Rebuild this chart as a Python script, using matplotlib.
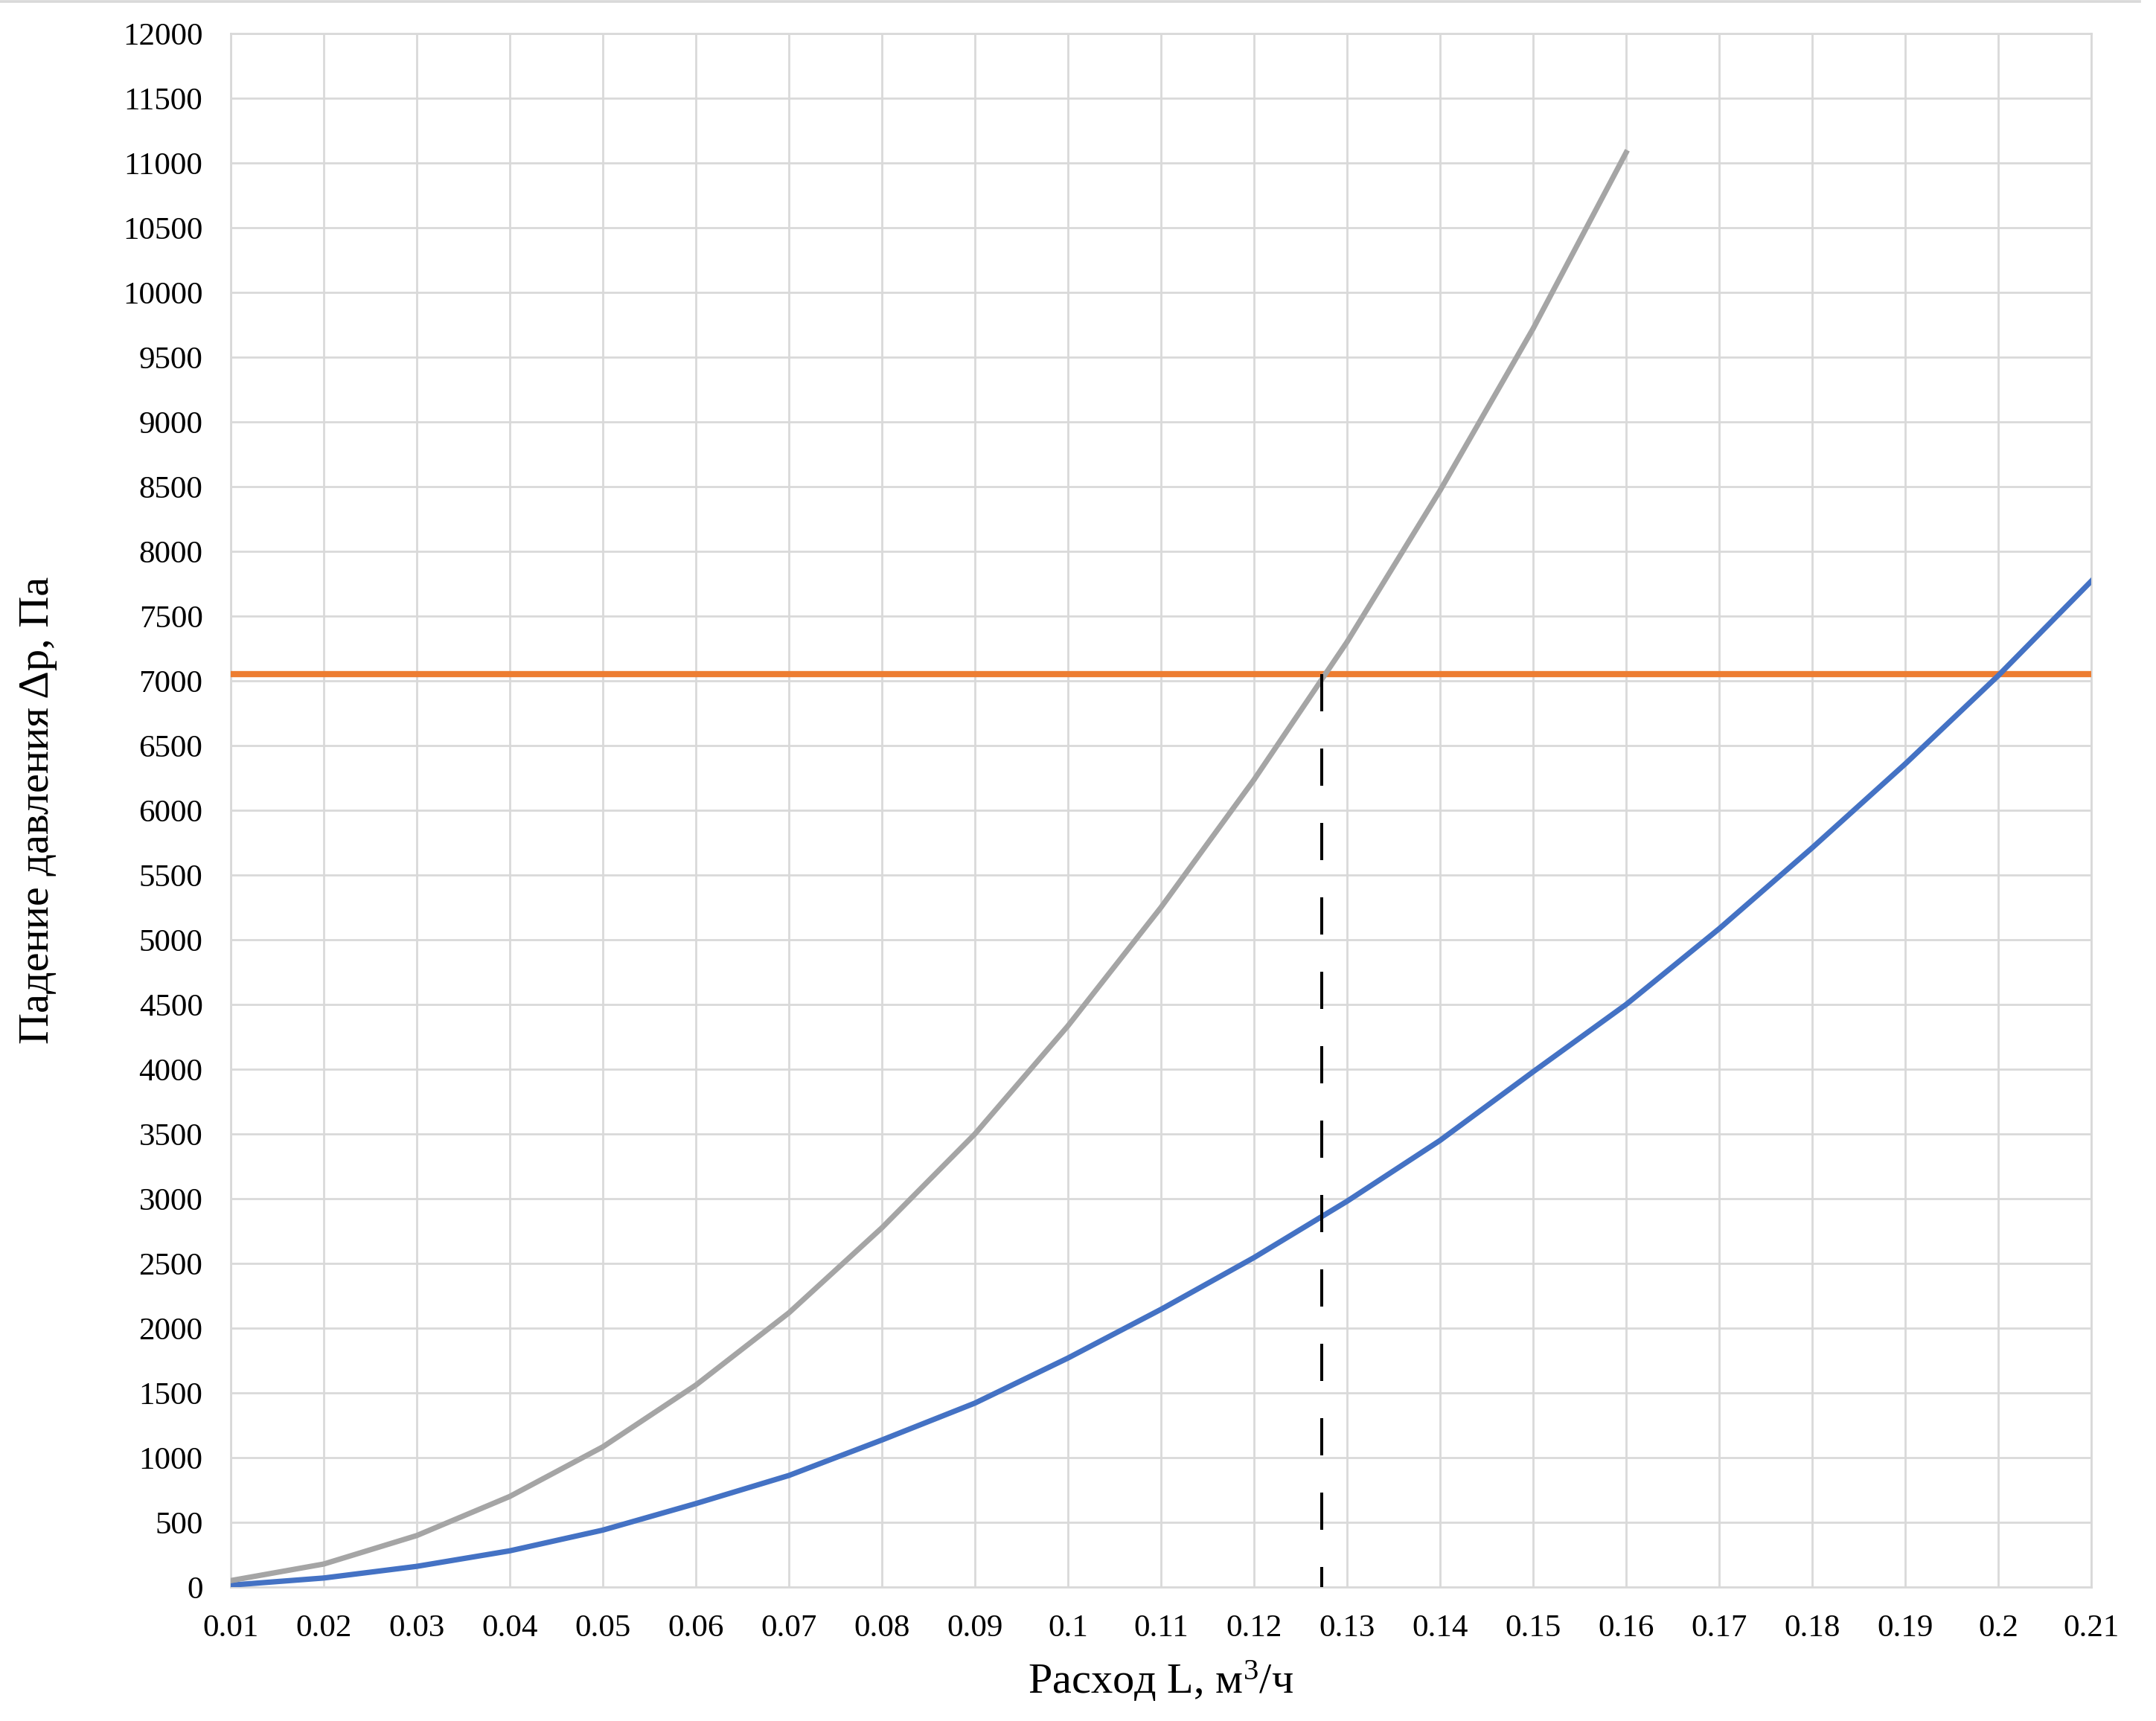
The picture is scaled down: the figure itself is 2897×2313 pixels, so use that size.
import matplotlib.pyplot as plt
from matplotlib.lines import Line2D

# flow rate, m3/h
flow = [0.01, 0.02, 0.03, 0.04, 0.05, 0.06, 0.07, 0.08, 0.09, 0.10, 0.11,
        0.12, 0.13, 0.14, 0.15, 0.16, 0.17, 0.18, 0.19, 0.20, 0.21]
flow_labels = [f"{v:g}" for v in flow]

# pressure drop, Pa
dp_gray = [50, 178, 398, 700, 1083, 1560, 2118, 2775, 3500, 4335, 5250,
           6236, 7300, 8470, 9720, 11080]
dp_blue = [15, 70, 160, 280, 440, 645, 862, 1136, 1421, 1769, 2145,
           2545, 2980, 3450, 3980, 4500, 5085, 5710, 6358, 7040, 7770]
dp_level = 7050
flow_point = 0.1273

y_ticks = list(range(0, 12001, 500))

plt.rcParams['font.family'] = ['Liberation Serif', 'DejaVu Serif']
plt.rcParams['mathtext.fontset'] = 'custom'
plt.rcParams['mathtext.rm'] = 'Liberation Serif'
plt.rcParams['mathtext.it'] = 'Liberation Serif'

fig = plt.figure(figsize=(2897 / 200, 2313 / 200), dpi=200)
ax = fig.add_axes([310 / 2897, 1 - 2133 / 2313, 2500 / 2897, 2088 / 2313])

grid_c = '#D9D9D9'
ax.plot([flow[0], flow[-1]], [dp_level, dp_level], color='#ED7D31', lw=3.0,
        solid_capstyle='butt', zorder=3)
ax.plot(flow, dp_blue, color='#4472C4', lw=2.6, zorder=4)
ax.plot(flow[:len(dp_gray)], dp_gray, color='#A5A5A5', lw=2.6, zorder=4)
ax.plot([flow_point, flow_point], [dp_level, 0], color='black', lw=1.44,
        linestyle=(0, (12.5, 12.5)), zorder=5)

ax.set_xlim(flow[0], flow[-1])
ax.set_ylim(0, 12000)
ax.set_xticks(flow)
ax.set_xticklabels(flow_labels)
ax.set_yticks(y_ticks)
ax.grid(True, color=grid_c, lw=1.0)
ax.set_axisbelow(True)
for s in ax.spines.values():
    s.set_color(grid_c)
    s.set_linewidth(1.0)
ax.tick_params(length=0, labelsize=15.5)
ax.tick_params(axis='x', pad=13)
ax.tick_params(axis='y', pad=13.5)

ax.set_xlabel(r'Расход L, м$^{3}$/ч', fontsize=21)
ax.set_ylabel('Падение давления Δp, Па', fontsize=21)
ax.xaxis.set_label_coords(0.5, -0.046)
ax.yaxis.set_label_coords(-0.093, 0.5)

fig.add_artist(Line2D([0, 2875 / 2897], [1 - 2 / 2313, 1 - 2 / 2313],
                      color=grid_c, lw=1.3))

fig.savefig('out.png', dpi=200)
